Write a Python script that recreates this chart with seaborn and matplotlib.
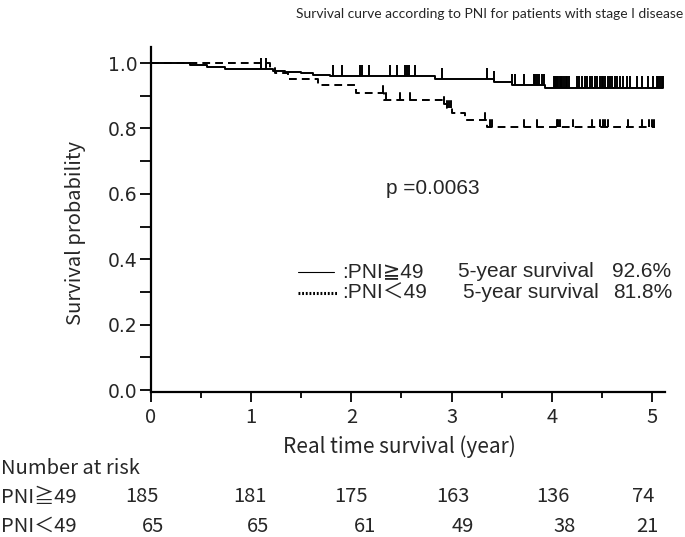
import numpy as np
import pandas as pd
import matplotlib
matplotlib.use("Agg")
import matplotlib.pyplot as plt
import matplotlib.transforms as mtransforms
import seaborn as sns

# ---------------- data ----------------
groups = ["PNI≧49", "PNI＜49"]

# Kaplan-Meier steps (time in years, survival after the step)
high_time = [0.00, 0.39, 0.56, 0.74, 1.22, 1.34, 1.50, 1.62, 1.79, 2.83, 3.42, 3.60, 3.93, 5.11]
high_surv = [1.000, 0.994, 0.989, 0.982, 0.977, 0.972, 0.968, 0.964, 0.960, 0.950, 0.943, 0.933, 0.925, 0.925]

low_time = [0.00, 1.19, 1.24, 1.37, 1.67, 2.05, 2.33, 2.92, 2.95, 3.00, 3.13, 3.35, 5.03]
low_surv = [1.000, 0.984, 0.969, 0.951, 0.934, 0.909, 0.887, 0.876, 0.861, 0.846, 0.826, 0.805, 0.805]

# censoring times
high_cens = [1.10, 1.15, 1.82, 1.91, 2.09, 2.11, 2.18, 2.39, 2.46, 2.54, 2.56, 2.57, 2.63, 2.90,
             3.35, 3.42, 3.60, 3.63, 3.72, 3.82, 3.83, 3.85, 3.87, 3.90, 3.92,
             4.02, 4.03, 4.04, 4.05, 4.06, 4.08, 4.09, 4.10, 4.12, 4.14, 4.15, 4.17,
             4.25, 4.27, 4.30, 4.33, 4.35, 4.38, 4.40, 4.43, 4.45, 4.48, 4.50, 4.51,
             4.53, 4.56, 4.58, 4.60, 4.63, 4.65, 4.68, 4.71, 4.75, 4.78, 4.85, 4.90,
             4.96, 5.01, 5.05, 5.06, 5.08, 5.10, 5.11]
low_cens = [2.32, 2.35, 2.49, 2.58, 2.92, 2.95, 2.97, 2.99, 3.33, 3.38,
            3.40, 3.72, 3.85, 4.05, 4.06, 4.08, 4.21, 4.40, 4.48, 4.51, 4.53, 4.56,
            4.76, 4.90, 4.97, 5.00, 5.02]

risk_times = [0, 1, 2, 3, 4, 5]
risk_high = [185, 181, 175, 163, 136, 74]
risk_low = [65, 65, 61, 49, 38, 21]

five_year = ["92.6%", "81.8%"]
p_text = "p =0.0063"
title = "Survival curve according to PNI for patients with stage I disease"

# ---------------- style ----------------
sns.set_style("ticks")
plt.rcParams["font.family"] = ["DejaVu Sans", "Noto Sans CJK JP"]
CJK = ["Noto Sans CJK JP", "DejaVu Sans"]
ARIAL = ["Liberation Sans", "DejaVu Sans", "Noto Sans CJK JP"]

W, H = 685, 537
fig = plt.figure(figsize=(W / 100, H / 100), dpi=100)

def fx(px):
    return px / W

def fy(py):
    return 1 - py / H

ax = fig.add_axes([fx(151), fy(392), fx(665) - fx(151), fy(47) - fy(392)])

df = pd.concat([
    pd.DataFrame({"time": high_time, "surv": high_surv, "group": groups[0]}),
    pd.DataFrame({"time": low_time, "surv": low_surv, "group": groups[1]}),
], ignore_index=True)

sns.lineplot(data=df, x="time", y="surv", hue="group", style="group",
             palette={groups[0]: "black", groups[1]: "black"},
             dashes={groups[0]: "", groups[1]: (4, 2.6)},
             drawstyle="steps-post", estimator=None, sort=False,
             linewidth=1.4, legend=False, ax=ax)

# censor ticks
def step_value(t_arr, s_arr, t):
    idx = np.searchsorted(np.asarray(t_arr), t, side="right") - 1
    return np.asarray(s_arr)[idx]

tick_h = 0.034
hc = np.asarray(high_cens)
ax.vlines(hc, step_value(high_time, high_surv, hc), step_value(high_time, high_surv, hc) + tick_h,
          color="black", linewidth=1.4)
lc = np.asarray(low_cens)
ax.vlines(lc, step_value(low_time, low_surv, lc), step_value(low_time, low_surv, lc) + tick_h,
          color="black", linewidth=1.4, linestyles=[(0, (4, 2.6))])

# axes
ax.set_xlim(0, 5.13)
ax.set_ylim(-0.006, 1.049)
ax.set_xticks(risk_times)
ax.set_xticks(np.arange(0.5, 5.1, 1.0), minor=True)
ax.set_yticks([0, 0.2, 0.4, 0.6, 0.8, 1.0])
ax.set_yticks([0.1, 0.3, 0.5, 0.7, 0.9], minor=True)
ax.set_yticklabels(["0.0", "0.2", "0.4", "0.6", "0.8", "1.0"], fontsize=13.5, family=["DejaVu Sans"])
ax.set_xticklabels([str(t) for t in risk_times], fontsize=14.5, family=CJK)
ax.tick_params(axis="y", which="both", direction="out", length=8, width=1.3, pad=1.5, color="black")
ax.tick_params(axis="x", which="major", direction="out", length=7.5, width=1.3, pad=3, color="black")
ax.tick_params(axis="x", which="minor", direction="out", length=4, width=1.3, color="black")
for s in ["top", "right"]:
    ax.spines[s].set_visible(False)
for s in ["left", "bottom"]:
    ax.spines[s].set_linewidth(1.6)
    ax.spines[s].set_color("black")
ax.set_xlabel("")
ax.set_ylabel("")

fig.text(fx(399), fy(447), "Real time survival (year)", ha="center", va="center",
         fontsize=15, family=CJK)
fig.text(fx(75), fy(233), "Survival probability", ha="center", va="center",
         rotation=90, fontsize=14.5, family=CJK)
fig.text(fx(683), fy(14), title, ha="right", va="center", fontsize=10, family=["Lato"])

# p value
ax.text(2.81, 0.616, p_text, ha="center", va="center", fontsize=15, family=ARIAL)

# legend (manual)
ax.plot([1.467, 1.826], [0.361, 0.361], color="black", linewidth=0.8, clip_on=False)
ax.plot([1.467, 1.866], [0.297, 0.297], color="black", linewidth=2.2,
        linestyle=(0, (0.6, 0.6)), clip_on=False)
leg_rows = [(0.361, 1.906, 3.064, 4.60), (0.297, 1.906, 3.114, 4.61)]
for (yy, x1, x2, x3), g, fv in zip(leg_rows, groups, five_year):
    ax.text(x1, yy, ":" + g, ha="left", va="center", fontsize=15, family=ARIAL, clip_on=False)
    ax.text(x2, yy, "5-year survival", ha="left", va="center", fontsize=15, family=ARIAL, clip_on=False)
    ax.text(x3, yy, fv, ha="left", va="center", fontsize=15, family=ARIAL, clip_on=False)

# number at risk table
fig.text(fx(1), fy(469), "Number at risk", ha="left", va="center", fontsize=14.5, family=CJK)
trans = mtransforms.blended_transform_factory(ax.transData, fig.transFigure)
row_offsets = [[-0.09, -0.01, 0.0, 0.01, 0.01, -0.09], [0.02, 0.07, 0.14, 0.11, 0.13, -0.05]]
for (label, vals, py, offs) in [(groups[0], risk_high, 497, row_offsets[0]),
                                (groups[1], risk_low, 526, row_offsets[1])]:
    fig.text(fx(1), fy(py), label, ha="left", va="center", fontsize=14.5, family=CJK)
    for t, v, o in zip(risk_times, vals, offs):
        fig.text(t + o, fy(py), str(v), ha="center", va="center", fontsize=14.5,
                 family=CJK, transform=trans)

fig.savefig("out.png", dpi=100)
